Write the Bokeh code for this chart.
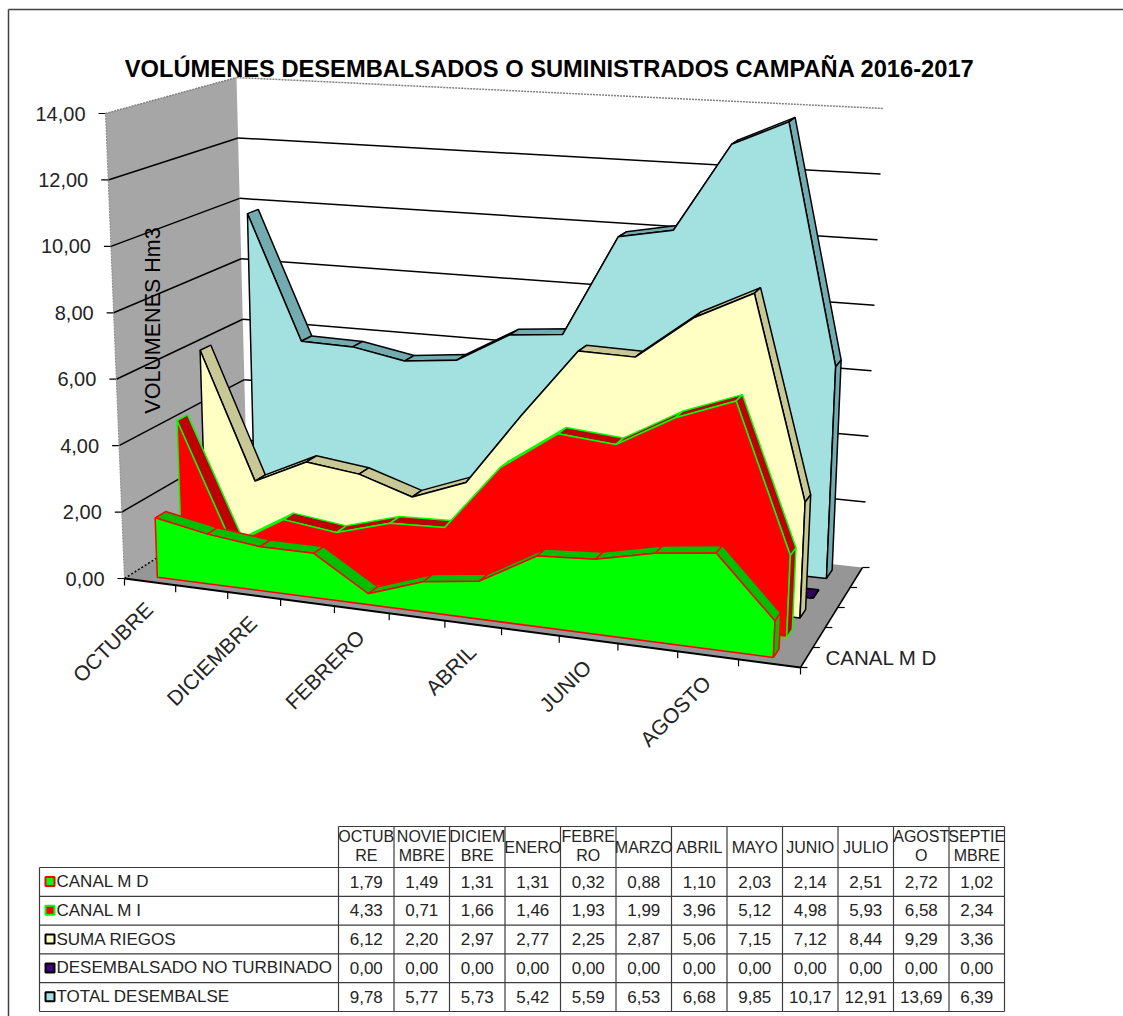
from bokeh.plotting import figure
from bokeh.models import Range1d
from bokeh.core.properties import value
from bokeh.embed import file_html
from bokeh.resources import INLINE
import math

# ---------- data ----------
months = ["OCTUBRE", "NOVIEMBRE", "DICIEMBRE", "ENERO", "FEBRERO", "MARZO",
          "ABRIL", "MAYO", "JUNIO", "JULIO", "AGOSTO", "SEPTIEMBRE"]
month_header = [["OCTUB", "RE"], ["NOVIE", "MBRE"], ["DICIEM", "BRE"], ["ENERO"], ["FEBRE", "RO"], ["MARZO"],
                ["ABRIL"], ["MAYO"], ["JUNIO"], ["JULIO"], ["AGOST", "O"], ["SEPTIE", "MBRE"]]
canal_md = [1.79, 1.49, 1.31, 1.31, 0.32, 0.88, 1.10, 2.03, 2.14, 2.51, 2.72, 1.02]
canal_mi = [4.33, 0.71, 1.66, 1.46, 1.93, 1.99, 3.96, 5.12, 4.98, 5.93, 6.58, 2.34]
suma_riegos = [6.12, 2.20, 2.97, 2.77, 2.25, 2.87, 5.06, 7.15, 7.12, 8.44, 9.29, 3.36]
no_turbinado = [0.00] * 12
total = [9.78, 5.77, 5.73, 5.42, 5.59, 6.53, 6.68, 9.85, 10.17, 12.91, 13.69, 6.39]
series_names = ["CANAL M D", "CANAL M I", "SUMA RIEGOS", "DESEMBALSADO NO TURBINADO", "TOTAL DESEMBALSE"]
series_values = [canal_md, canal_mi, suma_riegos, no_turbinado, total]
y_ticks = [0, 2, 4, 6, 8, 10, 12, 14]
x_labelled = [0, 2, 4, 6, 8, 10]
title = "VOLÚMENES DESEMBALSADOS  O SUMINISTRADOS CAMPAÑA 2016-2017"

# ---------- styles ----------
face = ["#00FF00", "#FF0000", "#FFFFC4", "#400080", "#A3E0E0"]
top = ["#00C000", "#C00000", "#C8C896", "#300060", "#72ACB0"]
edge = ["#FF0000", "#00FF00", "#000000", "#000000", "#000000"]
FONT = value("Liberation Sans")
TXT = "#242424"

# ---------- 3D box corners in page pixels (x, y) ----------
FLB, FRB, BLB, BRB = (124, 578), (800, 667), (247, 500), (862, 567)
FLT, FRT, BLT, BRT = (105, 113), (825, 162), (236, 77), (883, 108)
R_U, R_D = 1.11, 0.065


def mix(a, b, t):
    return (a[0] + (b[0] - a[0]) * t, a[1] + (b[1] - a[1]) * t)


def proj(u, d, v):
    t = u / 12
    s = t / (t + (R_U - R_D * d) * (1 - t)) if t > 0 else 0
    w = v / 14
    low = mix(mix(FLB, FRB, s), mix(BLB, BRB, s), d)
    up = mix(mix(FLT, FRT, s), mix(BLT, BRT, s), d)
    return mix(low, up, w)


def poly(points):
    pts = [proj(*q) for q in points]
    return [q[0] for q in pts], [q[1] for q in pts]


W, H = 1123, 1016
p = figure(width=W, height=H, x_range=Range1d(0, W), y_range=Range1d(H, 0),
           output_backend="svg", toolbar_location=None, min_border=0,
           x_axis_type=None, y_axis_type=None, outline_line_color=None)
p.grid.visible = False


def seg(a, b, color="#000000", width=1.5, dash="solid"):
    p.line([a[0], b[0]], [a[1], b[1]], line_color=color, line_width=width, line_dash=dash)


def label(x, y, s, size, align="left", base="middle", angle=0.0, style="normal", color=TXT):
    p.text([x], [y], text=[s], text_font=FONT, text_font_size=f"{size}px", text_align=align,
           text_baseline=base, angle=angle, text_font_style=style, text_color=color)


# frame
seg((8, 9), (8, H), "#404040", 1.5)
seg((8, 9), (W, 9), "#404040", 1.5)

# walls and floor
xs, ys = poly([(0, 0, 0), (0, 1, 0), (0, 1, 14), (0, 0, 14)])
p.patch(xs, ys, fill_color="#A6A6A6", line_color=None)
xs, ys = poly([(0, 0, 0), (12, 0, 0), (12, 1, 0), (0, 1, 0)])
p.patch(xs, ys, fill_color="#969696", line_color=None)

# grid
for v in y_ticks:
    a, b, c = proj(0, 0, v), proj(0, 1, v), proj(12, 1, v)
    if v == 14:
        seg(a, b, "#808080", 1.5, "2 1")
        seg(b, c, "#808080", 1.5, "2 1")
    elif v == 0:
        seg(a, b, "#000000", 1.5, "2 2")
    else:
        seg(a, b)
        seg(b, c)
    seg((a[0] - 7, a[1]), a, "#000000", 1.2)
    label(a[0] - 20, a[1], f"{v:.2f}".replace(".", ","), 20, align="right")
seg(proj(0, 0, 0), proj(0, 0, 14), "#8a8a8a", 1, "2 1")

# series, back to front
D0, SLOT, THICK = 0.06, 0.2, 0.085
us = [i + 0.5 for i in range(12)]
for i in range(4, -1, -1):
    vals = series_values[i]
    d = D0 + SLOT * i
    sx, sy = [], []
    for k in range(11):
        x_, y_ = poly([(us[k], d, vals[k]), (us[k + 1], d, vals[k + 1]),
                       (us[k + 1], d + THICK, vals[k + 1]), (us[k], d + THICK, vals[k])])
        sx.append(x_)
        sy.append(y_)
    p.patches(sx, sy, fill_color=top[i], line_color=edge[i], line_width=1.5)
    x_, y_ = poly([(u, d, v) for u, v in zip(us, vals)] + [(us[-1], d, 0), (us[0], d, 0)])
    p.patch(x_, y_, fill_color=face[i], line_color=edge[i], line_width=1.5)
    x_, y_ = poly([(us[-1], d, vals[-1]), (us[-1], d + THICK, vals[-1]),
                   (us[-1], d + THICK, 0), (us[-1], d, 0)])
    p.patch(x_, y_, fill_color=top[i], line_color=edge[i], line_width=1.5)

# axes
seg(proj(0, 0, 0), proj(12, 0, 0), "#000000", 2)
seg(proj(12, 0, 0), proj(12, 1, 0), "#000000", 1.5)
for k in range(13):
    a = proj(k, 0, 0)
    seg(a, (a[0], a[1] + 7), "#000000", 1.2)
for k in range(6):
    a = proj(12, k / 5, 0)
    seg(a, (a[0] + 7, a[1]), "#000000", 1.2)
for k in x_labelled:
    a = proj(us[k], 0, 0)
    label(a[0] - 1, a[1] + 24, months[k], 21, align="right", angle=math.pi / 4)
a = proj(12, 0, 0)
label(a[0] + 25, a[1] - 10, series_names[0], 20.5)

# titles
label(552.5, 68, title, 23.7, align="center", style="bold", color="#000000")
label(152, 320, "VOLUMENES Hm3", 21.5, align="center", angle=math.pi / 2, color="#000000")

# data table
col_x = [338 + 55.5 * k for k in range(13)]
row_y = [867 + 28.8 * k for k in range(6)]
LINE = "#3c3c3c"
seg((col_x[0], 826), (col_x[-1], 826), LINE, 1.2)
for x_ in col_x:
    seg((x_, 826), (x_, row_y[-1]), LINE, 1.2)
seg((39, row_y[0]), (39, row_y[-1]), LINE, 1.2)
for y_ in row_y:
    seg((39, y_), (col_x[-1], y_), LINE, 1.2)
FS, FH = 17, 16
for k, parts in enumerate(month_header):
    cx = col_x[k] + 27.75
    if len(parts) == 2:
        label(cx, 836, parts[0], FH, align="center")
        label(cx, 855, parts[1], FH, align="center")
    else:
        label(cx, 847, parts[0], FH, align="center")
for r, name in enumerate(series_names):
    cy = row_y[r] + 14
    p.rect([49.5], [cy], width=9, height=9, fill_color=face[r], line_color=edge[r], line_width=2)
    label(56, cy, name, FS)
    for k, v in enumerate(series_values[r]):
        label(col_x[k] + 27.75, cy, f"{v:.2f}".replace(".", ","), FS, align="center")

open("out.html", "w").write(file_html(p, INLINE))
